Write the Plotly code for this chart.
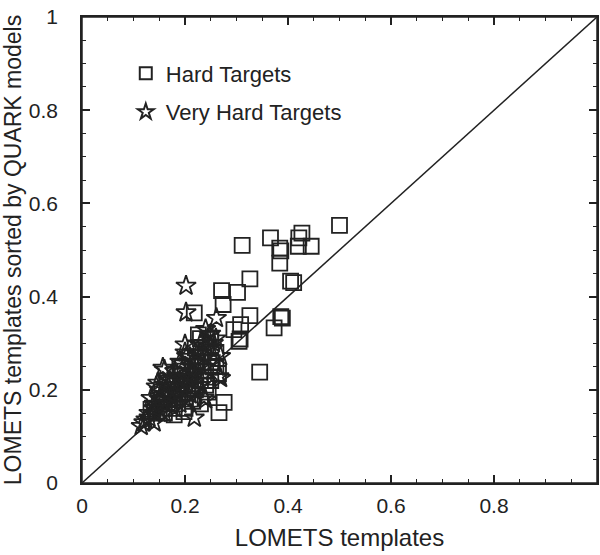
import plotly.graph_objects as go

# Hard targets (squares)
hard_x = [0.311, 0.366, 0.384, 0.386, 0.384, 0.427, 0.421, 0.420, 0.445, 0.500,
          0.405, 0.411, 0.326, 0.271, 0.302, 0.274, 0.326, 0.389, 0.386, 0.373,
          0.295, 0.307, 0.345, 0.276, 0.266, 0.218, 0.226, 0.250, 0.305, 0.234,
          0.253, 0.195, 0.198, 0.179, 0.308, 0.192, 0.134,
          0.16, 0.17, 0.18, 0.19, 0.20, 0.21, 0.22, 0.23, 0.24, 0.25,
          0.22, 0.23, 0.24, 0.25, 0.26, 0.21, 0.20, 0.23, 0.24, 0.26,
          0.25, 0.17, 0.15, 0.19, 0.21, 0.22, 0.20, 0.18, 0.16, 0.23,
          0.265, 0.245, 0.215, 0.205, 0.165, 0.155]
hard_y = [0.510, 0.526, 0.504, 0.498, 0.472, 0.536, 0.526, 0.508, 0.508, 0.553,
          0.433, 0.430, 0.438, 0.413, 0.409, 0.383, 0.359, 0.354, 0.357, 0.333,
          0.329, 0.309, 0.238, 0.173, 0.151, 0.365, 0.318, 0.308, 0.304, 0.258,
          0.258, 0.247, 0.153, 0.146, 0.340, 0.229, 0.158,
          0.18, 0.20, 0.22, 0.19, 0.21, 0.23, 0.25, 0.27, 0.29, 0.31,
          0.20, 0.22, 0.24, 0.26, 0.28, 0.18, 0.16, 0.17, 0.21, 0.25,
          0.22, 0.16, 0.17, 0.25, 0.27, 0.29, 0.24, 0.17, 0.15, 0.31,
          0.235, 0.195, 0.175, 0.195, 0.215, 0.195]

# Very hard targets (stars)
vhard_x = [0.202, 0.202, 0.261, 0.247, 0.200, 0.203, 0.269, 0.237, 0.218, 0.160,
           0.144, 0.134, 0.115, 0.124, 0.157, 0.147, 0.240, 0.269, 0.266, 0.234,
           0.13, 0.14, 0.15, 0.15, 0.16, 0.16, 0.17, 0.17, 0.18, 0.18,
           0.19, 0.19, 0.20, 0.20, 0.21, 0.21, 0.22, 0.22, 0.23, 0.23,
           0.24, 0.24, 0.25, 0.25, 0.14, 0.15, 0.17, 0.18, 0.19, 0.20,
           0.12, 0.13, 0.14, 0.16, 0.18, 0.19, 0.20, 0.21, 0.22, 0.23,
           0.17, 0.185, 0.195, 0.205, 0.215, 0.16, 0.15, 0.14, 0.175, 0.21,
           0.22, 0.23, 0.255, 0.26, 0.24]
vhard_y = [0.423, 0.366, 0.354, 0.318, 0.297, 0.272, 0.225, 0.183, 0.140, 0.243,
           0.207, 0.182, 0.122, 0.136, 0.247, 0.215, 0.179, 0.272, 0.229, 0.229,
           0.14, 0.15, 0.16, 0.18, 0.17, 0.19, 0.18, 0.20, 0.19, 0.21,
           0.20, 0.22, 0.21, 0.23, 0.22, 0.24, 0.23, 0.26, 0.25, 0.28,
           0.27, 0.30, 0.29, 0.32, 0.17, 0.20, 0.22, 0.24, 0.26, 0.28,
           0.13, 0.15, 0.13, 0.15, 0.16, 0.17, 0.18, 0.19, 0.20, 0.21,
           0.19, 0.205, 0.215, 0.225, 0.235, 0.21, 0.15, 0.16, 0.175, 0.27,
           0.28, 0.30, 0.30, 0.31, 0.33]

diag = [0, 1]
tick_vals = [0, 0.2, 0.4, 0.6, 0.8, 1]
tick_text = ["0", "0.2", "0.4", "0.6", "0.8", "1"]

FONT = "Liberation Sans, Arial, sans-serif"
INK = "#222222"

fig = go.Figure()
fig.add_trace(go.Scatter(x=diag, y=diag, mode="lines",
                         line=dict(color=INK, width=1.5),
                         showlegend=False, hoverinfo="skip"))
fig.add_trace(go.Scatter(x=hard_x, y=hard_y, mode="markers", name="Hard Targets",
                         legendgroup="a",
                         marker=dict(symbol="square-open", size=15,
                                     color=INK, line=dict(width=1.8, color=INK))))
fig.add_trace(go.Scatter(x=vhard_x, y=vhard_y, mode="markers", name="Very Hard Targets",
                         legendgroup="b",
                         marker=dict(symbol="star-open", size=15,
                                     color=INK, line=dict(width=1.8, color=INK))))

axis_common = dict(range=[0, 1], showline=True, linecolor=INK, linewidth=1.5,
                   mirror="allticks", ticks="inside", ticklen=8, tickwidth=1.5,
                   tickcolor=INK, tickvals=tick_vals, ticktext=tick_text,
                   showgrid=False, zeroline=False, automargin=False,
                   tickfont=dict(family=FONT, size=21, color=INK),
                   minor=dict(dtick=0.05, ticks="inside", ticklen=4, tickwidth=1.2,
                              tickcolor=INK, showgrid=False))

fig.update_layout(
    width=600, height=555,
    margin=dict(l=82, r=3, t=17, b=72, autoexpand=False),
    paper_bgcolor="white", plot_bgcolor="white",
    font=dict(family=FONT, color=INK),
    xaxis=dict(**axis_common, ticklabelstandoff=3,
               title=dict(text="LOMETS templates", font=dict(family=FONT, size=24), standoff=13)),
    yaxis=dict(**axis_common, ticklabelstandoff=18,
               title=dict(text="LOMETS templates sorted by QUARK models",
                          font=dict(family=FONT, size=23), standoff=2)),
    legend=dict(x=0.085, y=0.924, xanchor="left", yanchor="top",
                bgcolor="rgba(0,0,0,0)", font=dict(family=FONT, size=22),
                tracegroupgap=7, itemsizing="constant"),
    shapes=[dict(type="rect", xref="x domain", yref="y domain", x0=0, x1=1, y0=0, y1=1,
                 line=dict(color=INK, width=1.5), fillcolor="rgba(0,0,0,0)", layer="above")],
)

fig.write_html("out.html", config={"displayModeBar": False},
               post_script="document.body.style.margin='0';document.body.style.overflow='hidden';")
